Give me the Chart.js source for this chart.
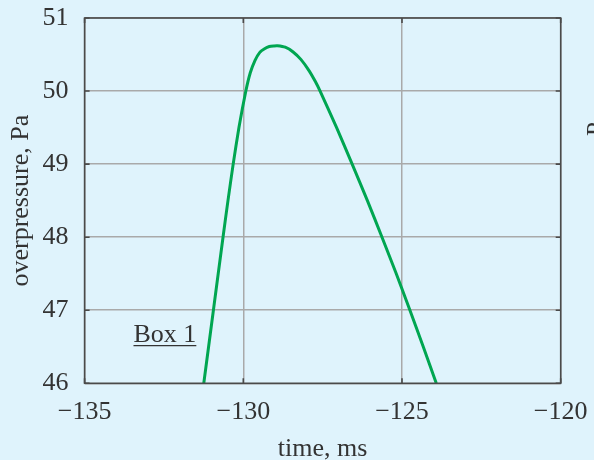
<!DOCTYPE html>
<html>
<head>
<meta charset="utf-8">
<script src="https://cdn.jsdelivr.net/npm/chart.js@4.4.1/dist/chart.umd.min.js"></script>
<style>
  html, body { margin: 0; padding: 0; background: #dff3fc; }
  #wrap { width: 594px; height: 460px; position: relative; }
</style>
</head>
<body>
<div id="wrap"><canvas id="c"></canvas></div>
<script>
// Overpressure pulse recorded in box 1
const timeMs = [
  -131.245, -130.942, -130.639, -130.483, -130.319, -130.137, -129.92, -129.78, -129.63, -129.48,
  -129.33, -129.18, -129.03, -128.93, -128.68, -128.43, -128.18, -127.93, -127.73, -127.58,
  -127.06, -126.57, -126.09, -125.63, -125.18, -124.75, -124.33, -123.92
];
const overpressurePa = [
  46.0, 47.0, 48.0, 48.5, 49.0, 49.5, 50.0, 50.25, 50.42, 50.53,
  50.58, 50.61, 50.618, 50.62, 50.6, 50.535, 50.43, 50.28, 50.13, 50.0,
  49.5, 49.0, 48.5, 48.0, 47.5, 47.0, 46.5, 46.0
];

const timeTicks = [-135, -130, -125, -120];
const pressureTicks = [46, 47, 48, 49, 50, 51];

const boxLabel = { text: 'Box 1', x: -132.47, y: 46.68 };
const sideLabel = 'P';

const serif = '"Liberation Serif", "DejaVu Serif", serif';
const ink = '#333333';
const frame = '#4a4a4a';
const gridGray = '#a9a9a9';

const minusSign = v => String(v).replace('-', '\u2212');

// Short inward tick marks on all four sides of the frame
const frameTicks = {
  id: 'frameTicks',
  afterDatasetsDraw(chart) {
    const { ctx, chartArea: a, scales: { x, y } } = chart;
    const len = 5;
    ctx.save();
    ctx.strokeStyle = frame;
    ctx.lineWidth = 1.6;
    ctx.beginPath();
    timeTicks.forEach(v => {
      const px = x.getPixelForValue(v);
      ctx.moveTo(px, a.bottom); ctx.lineTo(px, a.bottom - len);
      ctx.moveTo(px, a.top); ctx.lineTo(px, a.top + len);
    });
    pressureTicks.forEach(v => {
      const py = y.getPixelForValue(v);
      ctx.moveTo(a.left, py); ctx.lineTo(a.left + len, py);
      ctx.moveTo(a.right, py); ctx.lineTo(a.right - len, py);
    });
    ctx.stroke();
    ctx.strokeRect(a.left, a.top, a.right - a.left, a.bottom - a.top);
    ctx.restore();
  }
};

// Underlined panel caption and the edge of the neighbouring panel's axis title
const captions = {
  id: 'captions',
  afterDraw(chart) {
    const { ctx, scales: { x, y } } = chart;
    ctx.save();
    ctx.font = '26px ' + serif;
    ctx.fillStyle = ink;
    ctx.textAlign = 'center';
    ctx.textBaseline = 'alphabetic';
    const cx = x.getPixelForValue(boxLabel.x);
    const cy = y.getPixelForValue(boxLabel.y) + 8;
    ctx.fillText(boxLabel.text, cx, cy);
    const w = ctx.measureText(boxLabel.text).width;
    ctx.strokeStyle = ink;
    ctx.lineWidth = 1.4;
    ctx.beginPath();
    ctx.moveTo(cx - w / 2, cy + 4);
    ctx.lineTo(cx + w / 2, cy + 4);
    ctx.stroke();

    ctx.translate(604, 136);
    ctx.rotate(-Math.PI / 2);
    ctx.textAlign = 'left';
    ctx.font = '25px ' + serif;
    ctx.fillText(sideLabel, 0, 0);
    ctx.restore();
  }
};

new Chart(document.getElementById('c'), {
  type: 'scatter',
  data: {
    datasets: [{
      data: timeMs.map((t, i) => ({ x: t, y: overpressurePa[i] })),
      showLine: true,
      borderColor: '#00a651',
      borderWidth: 3,
      pointRadius: 0,
      tension: 0.2,
      fill: false
    }]
  },
  options: {
    responsive: true,
    maintainAspectRatio: false,
    animation: false,
    layout: { padding: { left: 0, top: 18, right: 33.3, bottom: 0 } },
    plugins: { legend: { display: false }, tooltip: { enabled: false } },
    scales: {
      x: {
        type: 'linear',
        min: -135, max: -120,
        afterBuildTicks: s => { s.ticks = timeTicks.map(v => ({ value: v })); },
        afterFit: s => { s.height = 76.7; s.paddingLeft = 0; s.paddingRight = 0; },
        grid: { color: gridGray, lineWidth: 1.5, drawTicks: false },
        border: { display: false },
        ticks: {
          color: ink, padding: 13, maxRotation: 0,
          font: { family: serif, size: 26 },
          callback: v => minusSign(v)
        },
        title: {
          display: true, text: 'time, ms', color: ink,
          font: { family: serif, size: 26 }, padding: { top: 0, bottom: -5 }
        }
      },
      y: {
        type: 'linear',
        min: 46, max: 51,
        afterBuildTicks: s => { s.ticks = pressureTicks.map(v => ({ value: v })); },
        afterFit: s => { s.width = 84.6; s.paddingTop = 0; s.paddingBottom = 0; },
        grid: { color: gridGray, lineWidth: 1.5, drawTicks: false },
        border: { display: false },
        ticks: {
          color: ink, padding: 16,
          font: { family: serif, size: 26 },
          callback: v => minusSign(v)
        },
        title: {
          display: true, text: 'overpressure, Pa', color: ink,
          font: { family: serif, size: 26 }, padding: { top: 6, bottom: 0 }
        }
      }
    }
  },
  plugins: [frameTicks, captions]
});
</script>
</body>
</html>
